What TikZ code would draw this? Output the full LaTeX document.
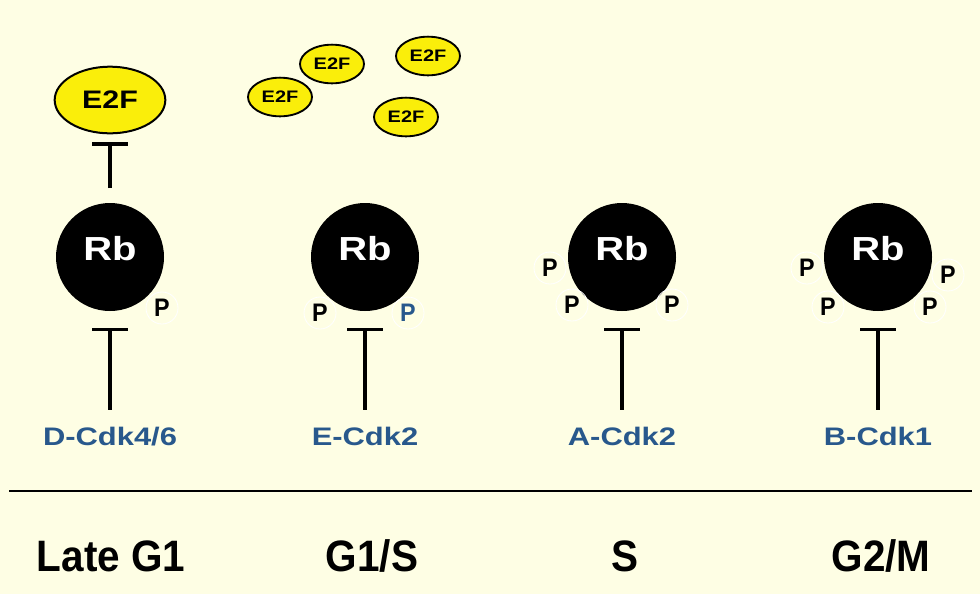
\documentclass[tikz,border=0pt]{standalone}
\usepackage{fontspec}
\setmainfont{Liberation Sans}
\newfontfamily\widefont[FakeStretch=1.2]{Liberation Sans}
\newfontfamily\cdkfont[FakeStretch=1.22]{Liberation Sans}
\newfontfamily\stagefont[FakeStretch=0.92]{Liberation Sans}
\usetikzlibrary{arrows.meta,shapes.geometric}
\definecolor{bgyellow}{RGB}{254,254,228}
\definecolor{e2fyellow}{RGB}{250,238,10}
\definecolor{cdkblue}{RGB}{40,88,140}

\begin{document}
\begin{tikzpicture}[x=0.75pt, y=-0.75pt,
    rb/.style={circle, fill=black, minimum size=81pt, inner sep=0pt, text=white,
        font=\widefont\bfseries\fontsize{25}{25}\selectfont},
    e2fbig/.style={ellipse, draw, line width=1.5pt, fill=e2fyellow, minimum width=83pt, minimum height=50pt,
        inner sep=0pt, font=\widefont\bfseries\fontsize{19}{19}\selectfont},
    e2fsmall/.style={ellipse, draw, line width=1.4pt, fill=e2fyellow, minimum width=48pt, minimum height=29pt,
        inner sep=0pt, font=\widefont\bfseries\fontsize{12.5}{12.5}\selectfont},
    pmark/.style={circle, draw=white, line width=0.6pt, minimum size=24pt, inner sep=0pt,
        font=\stagefont\bfseries\fontsize{19}{19}\selectfont},
    cdk/.style={anchor=base, inner sep=0pt, text=cdkblue, font=\cdkfont\bfseries\fontsize{19}{19}\selectfont},
    stage/.style={anchor=base, inner sep=0pt, font=\stagefont\bfseries\fontsize{33}{33}\selectfont},
    inhib/.style={line width=2.6pt, -{Bar[width=27pt, line width=2.6pt]}}]

% background
\fill[bgyellow] (0,0) rectangle (980,594);

% Late G1
\node[rb] (rb1) at (110,257) {\raisebox{13pt}{Rb}};
\node[pmark] (p1) at (162,308) {P};
\node[e2fbig] (e2f1) at (110,100) {E2F};
\node[cdk] (cdk1) at (110,445) {D-Cdk4/6};
\draw[inhib, shorten <=11pt, shorten >=6pt] (rb1.north) -- (e2f1.south);
\draw[inhib, shorten <=12.5pt, shorten >=12.5pt] (cdk1.north) -- (rb1.south);

% G1/S
\node[e2fsmall] (e2fa) at (280,97) {E2F};
\node[e2fsmall] (e2fb) at (332,64) {E2F};
\node[e2fsmall] (e2fc) at (428,56) {E2F};
\node[e2fsmall] (e2fd) at (406,117) {E2F};
\node[rb] (rb2) at (365,257) {\raisebox{13pt}{Rb}};
\node[pmark] (p2a) at (320,313) {P};
\node[pmark, text=cdkblue] (p2b) at (408,313) {P};
\node[cdk] (cdk2) at (365,445) {E-Cdk2};
\draw[inhib, shorten <=12.5pt, shorten >=12.5pt] (cdk2.north) -- (rb2.south);

% S
\node[rb] (rb3) at (622,257) {\raisebox{13pt}{Rb}};
\node[pmark] (p3a) at (550,268) {P};
\node[pmark] (p3b) at (572,305) {P};
\node[pmark] (p3c) at (672,305) {P};
\node[cdk] (cdk3) at (622,445) {A-Cdk2};
\draw[inhib, shorten <=12.5pt, shorten >=12.5pt] (cdk3.north) -- (rb3.south);

% G2/M
\node[rb] (rb4) at (878,257) {\raisebox{13pt}{Rb}};
\node[pmark] (p4a) at (807,268) {P};
\node[pmark] (p4b) at (828,307) {P};
\node[pmark] (p4c) at (930,307) {P};
\node[pmark] (p4d) at (948,275) {P};
\node[cdk] (cdk4) at (878,445) {B-Cdk1};
\draw[inhib, shorten <=12.5pt, shorten >=12.5pt] (cdk4.north) -- (rb4.south);

% phase axis
\coordinate (axl) at (9,491);
\coordinate (axr) at (972,491);
\draw[line width=1.5pt] (axl) -- (axr);
\node[stage] (st1) at (111,571) {Late G1};
\node[stage] (st2) at (372,571) {G1/S};
\node[stage] (st3) at (625,571) {S};
\node[stage] (st4) at (881,571) {G2/M};
\end{tikzpicture}
\end{document}
